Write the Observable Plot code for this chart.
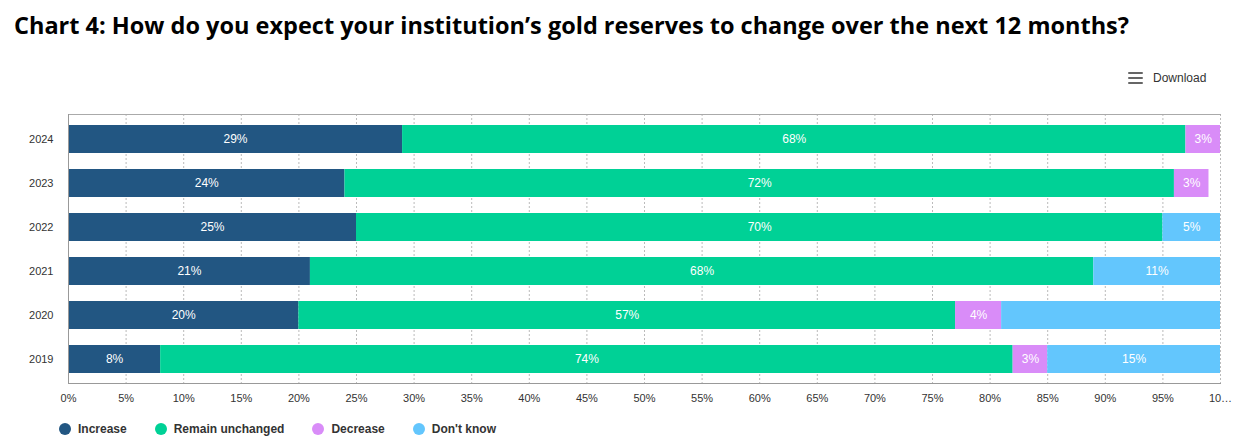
<!DOCTYPE html>
<html>
<head>
<meta charset="utf-8">
<script src="https://cdn.jsdelivr.net/npm/d3@7"></script>
<script src="https://cdn.jsdelivr.net/npm/@observablehq/plot@0.6"></script>
<style>
  body { margin: 0; background: #fff; width: 1236px; height: 443px; overflow: hidden; position: relative; font-family: "Liberation Sans", Arial, sans-serif; }
  #title { position: absolute; left: 14px; top: 9px; font-family: "Open Sans", sans-serif; font-weight: 700; font-size: 23.5px; color: #000; white-space: nowrap; }
  #download { position: absolute; left: 1128px; top: 71px; display: flex; align-items: center; font-size: 12px; color: #333; }
  #download .icon { width: 15px; height: 12px; display: flex; flex-direction: column; justify-content: space-between; margin-right: 10px; }
  #download .icon div { height: 2.4px; background: #666; border-radius: 1px; }
  #chart { position: absolute; left: 0; top: 100px; }
  #legend { position: absolute; left: 59px; top: 422px; display: flex; gap: 28px; font-size: 12px; font-weight: 700; color: #333; }
  #legend .item { display: flex; align-items: center; }
  #legend .dot { width: 12px; height: 12px; border-radius: 50%; margin-right: 7px; }
</style>
</head>
<body>
<div id="title">Chart 4: How do you expect your institution’s gold reserves to change over the next 12 months?</div>
<div id="download"><div class="icon"><div></div><div></div><div></div></div><span>Download</span></div>
<div id="chart"></div>
<div id="legend"></div>
<script>
const years = ["2024", "2023", "2022", "2021", "2020", "2019"];
const series = ["Increase", "Remain unchanged", "Decrease", "Don't know"];
const colors = ["#225682", "#00d196", "#d98cf8", "#63c6fd"];
const increase = [29, 24, 25, 21, 20, 8];
const remain = [68, 72, 70, 68, 57, 74];
const decrease = [3, 3, 0, 0, 4, 3];
const dontKnow = [0, 0, 5, 11, 19, 15];
// labels shown on the segments (null = no label in the original)
const dontKnowLabels = ["", "", "5%", "11%", null, "15%"];
const xTicks = [0, 5, 10, 15, 20, 25, 30, 35, 40, 45, 50, 55, 60, 65, 70, 75, 80, 85, 90, 95, 100];
const xTickLabels = ["0%", "5%", "10%", "15%", "20%", "25%", "30%", "35%", "40%", "45%", "50%", "55%", "60%", "65%", "70%", "75%", "80%", "85%", "90%", "95%", "10…"];

const seriesValues = [increase, remain, decrease, dontKnow];
const rows = [];
years.forEach((y, i) => {
  series.forEach((s, j) => {
    const v = seriesValues[j][i];
    if (v > 0) {
      let label = v + "%";
      if (j === 3 && dontKnowLabels[i] === null) label = "";
      rows.push({ year: y, series: s, value: v, label });
    }
  });
});

const chart = Plot.plot({
  width: 1236,
  height: 310,
  marginLeft: 68,
  marginRight: 16,
  marginTop: 14,
  marginBottom: 27,
  style: { fontFamily: "Liberation Sans, Arial, sans-serif", fontSize: "11px", color: "#333", background: "#fff" },
  x: { domain: [0, 100], ticks: xTicks, label: null },
  y: { domain: years, label: null, paddingInner: 0.37, paddingOuter: 0.185 },
  color: { domain: series, range: colors },
  marks: [
    Plot.ruleX(xTicks.slice(1), { stroke: "#bbb", strokeDasharray: "2,2", strokeWidth: 1 }),
    Plot.barX(rows, Plot.stackX({ x: "value", y: "year", fill: "series", order: null })),
    Plot.text(rows, Plot.stackX({ x: "value", y: "year", text: "label", order: null, fill: "white", fontSize: 12, fontFamily: "Liberation Sans, Arial, sans-serif" })),
    Plot.frame({ anchor: "top", stroke: "#aaa" }),
    Plot.frame({ anchor: "left", stroke: "#999" }),
    Plot.frame({ anchor: "bottom", stroke: "#999" }),
    Plot.axisX({ ticks: xTicks, tickSize: 0, tickPadding: 11, tickFormat: d => xTickLabels[xTicks.indexOf(d)], fill: "#333", fontSize: 11 }),
    Plot.axisY({ tickSize: 0, tickPadding: 15, fill: "#333", fontSize: 11 })
  ]
});
document.getElementById("chart").appendChild(chart);

const legend = document.getElementById("legend");
series.forEach((s, j) => {
  const item = document.createElement("div");
  item.className = "item";
  item.innerHTML = `<div class="dot" style="background:${colors[j]}"></div><span>${s}</span>`;
  legend.appendChild(item);
});
</script>
</body>
</html>
